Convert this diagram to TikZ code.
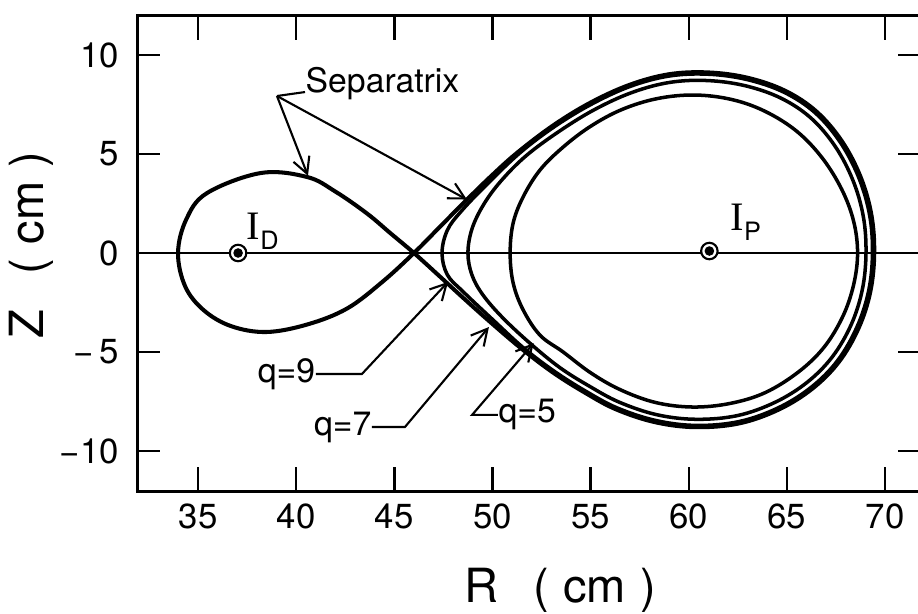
\documentclass[tikz,border=0pt]{standalone}
\usepackage{fontspec}
\setmainfont{TeX Gyre Heros}
\newfontfamily\serifI{Liberation Serif}
\usetikzlibrary{arrows.meta,positioning,calc}
\tikzset{
  frame/.style={line width=0.85pt},
  tick/.style={line width=0.7pt},
  midline/.style={line width=0.55pt},
  sepline/.style={line width=1.15pt, line join=round},
  qline/.style={line width=1.0pt, line join=round},
  thinline/.style={line width=0.6pt},
  lead/.style={line width=0.6pt, -{Straight Barb[length=1.6mm,width=1.7mm]}},
  numlbl/.style={font=\fontsize{9.9}{11}\selectfont, inner sep=0pt},
  lbl/.style={font=\fontsize{9.6}{11}\selectfont, inner sep=0pt},
  axlbl/.style={font=\fontsize{13.4}{15}\selectfont, inner sep=0pt},
  marker/.style={circle, draw, fill=white, line width=0.6pt, minimum size=0.165cm, inner sep=0pt},
}
\newcommand{\Icur}[1]{{\serifI\fontsize{11.5}{12}\selectfont I}\raisebox{-0.1cm}{\fontsize{7.2}{8}\selectfont #1}}

\begin{document}
\begin{tikzpicture}[x=0.1963cm, y=0.198cm]
  \clip (24.91,-18.23) rectangle (71.68,12.78);
  % frame and ticks
  \draw[frame] (31.9,-12.05) rectangle (71.85,12.02);
  \foreach \r in {35,40,...,70} {
    \draw[tick] (\r,-12.05) -- ++(0,1.26);
    \draw[tick] (\r,12.02) -- ++(0,-1.26);
    \node[numlbl] at (\r,-13.33) {\r};
  }
  \foreach \z in {10,5,-5,-10} {
    \draw[tick] (31.9,\z) -- ++(1.17,0);
    \draw[tick] (71.85,\z) -- ++(-1.17,0);
  }
  \foreach \z/\t in {10/10,5/5,0/0,-5/{−\,5},-10/{−10}}
    \node[numlbl, anchor=east] at (31.0,\z) {\t};
  \node[axlbl] (rlbl) at (53.44,-17.02) {R\hspace{0.75em}(\hspace{0.3em}cm\hspace{0.3em})};
  \node[axlbl, rotate=90] (zlbl) at (26.49,0.4) {Z\hspace{0.75em}(\hspace{0.3em}cm\hspace{0.3em})};
  \draw[midline] (31.9,0) -- (71.85,0);

  % separatrix (figure eight through the X point)
  \draw[sepline] plot[smooth cycle, tension=0.6] coordinates {
    (46,0) (47.3,1.3) (48.65,2.65) (50.0,3.95) (51.3,5.1) (53.1,6.45)
    (55.0,7.6) (57.0,8.5) (59.0,9.03) (61.0,9.12) (63.0,8.85) (64.9,8.2)
    (66.5,7.15) (67.8,5.65) (68.75,3.85) (69.3,1.95) (69.45,0)
    (69.25,-1.95) (68.65,-3.8) (67.65,-5.5) (66.3,-6.85) (64.6,-7.9)
    (62.6,-8.6) (60.4,-8.8) (58.3,-8.55) (56.3,-7.9) (54.7,-7.05)
    (53.1,-6.05) (51.5,-4.85) (49.9,-3.5) (48.6,-2.35) (47.3,-1.17)
    (46,0) (44.8,1.0) (43.6,2.0) (42.0,3.1) (40.55,3.84) (38.2,4.04)
    (35.46,3.03) (34.4,1.7) (33.98,0) (34.35,-1.7) (35.3,-2.9)
    (36.7,-3.7) (38.5,-3.99) (40.6,-3.6) (42.6,-2.8) (44.4,-1.45)};
  % q contours
  \draw[qline] plot[smooth cycle, tension=0.6] coordinates {
    (47.43,0) (47.7,1.15) (48.4,2.1) (49.65,3.4) (51.39,5.05) (53.17,6.39)
    (55.05,7.52) (57.03,8.42) (59.01,8.94) (60.99,9.03) (62.97,8.76)
    (64.85,8.12) (66.44,7.08) (67.72,5.59) (68.66,3.81) (69.21,1.93)
    (69.36,0) (69.16,-1.93) (68.56,-3.76) (67.57,-5.45) (66.24,-6.78)
    (64.56,-7.82) (62.58,-8.51) (60.4,-8.71) (58.32,-8.46) (56.34,-7.82)
    (54.75,-6.98) (53.17,-5.99) (51.59,-4.8) (50.05,-3.4) (48.5,-1.95)
    (47.7,-1.1)};
  \draw[qline] plot[smooth cycle, tension=0.6] coordinates {
    (48.75,0) (48.95,1.2) (49.52,2.4) (50.4,3.6) (51.7,4.9) (53.42,6.16)
    (55.23,7.26) (57.14,8.12) (59.05,8.62) (60.96,8.71) (62.87,8.45)
    (64.68,7.83) (66.21,6.83) (67.45,5.4) (68.36,3.68) (68.89,1.86)
    (69.03,0) (68.84,-1.86) (68.27,-3.63) (67.31,-5.25) (66.02,-6.54)
    (64.4,-7.54) (62.49,-8.21) (60.39,-8.4) (58.38,-8.17) (56.47,-7.54)
    (54.94,-6.73) (53.42,-5.78) (51.9,-4.55) (50.5,-3.25) (49.5,-2.1)
    (48.95,-1.1)};
  \draw[qline] plot[smooth cycle, tension=0.6] coordinates {
    (50.9,0) (51.05,1.5) (51.56,2.83) (52.42,4.19) (53.6,5.35) (55.0,6.4)
    (56.6,7.25) (58.4,7.8) (60.3,7.98) (62.2,7.75) (63.9,7.15) (65.5,6.15)
    (66.8,4.8) (67.8,3.2) (68.4,1.6) (68.6,0) (68.4,-1.6) (67.85,-3.2)
    (66.9,-4.75) (65.6,-6.0) (63.9,-7.05) (62.1,-7.6) (60.2,-7.78)
    (58.3,-7.55) (56.5,-6.9) (55.0,-6.05) (53.6,-5.0) (52.42,-4.15)
    (51.55,-2.85) (51.05,-1.5)};

  % current filaments
  \node[marker] (id) at (37.04,0) {};
  \fill (id.center) circle (0.048cm);
  \node[marker] (ip) at (61.05,0.1) {};
  \fill (ip.center) circle (0.048cm);
  \node[lbl, anchor=base west] (idlbl) at (37.45,0.66) {\Icur{D}};
  \node[lbl, anchor=base west] (iplbl) at (62.1,1.16) {\Icur{P}};

  % separatrix label
  \node[lbl, anchor=base west] (seplbl) at (40.45,8.13) {Separatrix};
  \coordinate (sepfork) at (39.02,7.93);
  \coordinate (septipA) at (40.6,3.9);
  \coordinate (septipB) at (48.7,2.7);
  \draw[thinline] (sepfork) -- (seplbl.base west);
  \draw[lead] (sepfork) -- (septipA);
  \draw[lead] (sepfork) -- (septipB);

  % q labels
  \node[lbl, anchor=east] (q9lbl) at (41.0,-6.11) {q=9};
  \coordinate (q9bend) at (43.35,-6.11);
  \coordinate (q9tip) at (47.74,-1.46);
  \draw[lead] (q9lbl.east) -- (q9bend) -- (q9tip);
  \node[lbl, anchor=east] (q7lbl) at (43.86,-8.79) {q=7};
  \coordinate (q7bend) at (45.54,-8.79);
  \coordinate (q7tip) at (49.82,-3.74);
  \draw[lead] (q7lbl.east) -- (q7bend) -- (q7tip);
  \node[lbl, anchor=west] (q5lbl) at (50.28,-8.18) {q=5};
  \coordinate (q5bend) at (48.96,-8.18);
  \coordinate (q5tip) at (52.1,-4.55);
  \draw[lead] (q5lbl.west) -- (q5bend) -- (q5tip);
\end{tikzpicture}
\end{document}
